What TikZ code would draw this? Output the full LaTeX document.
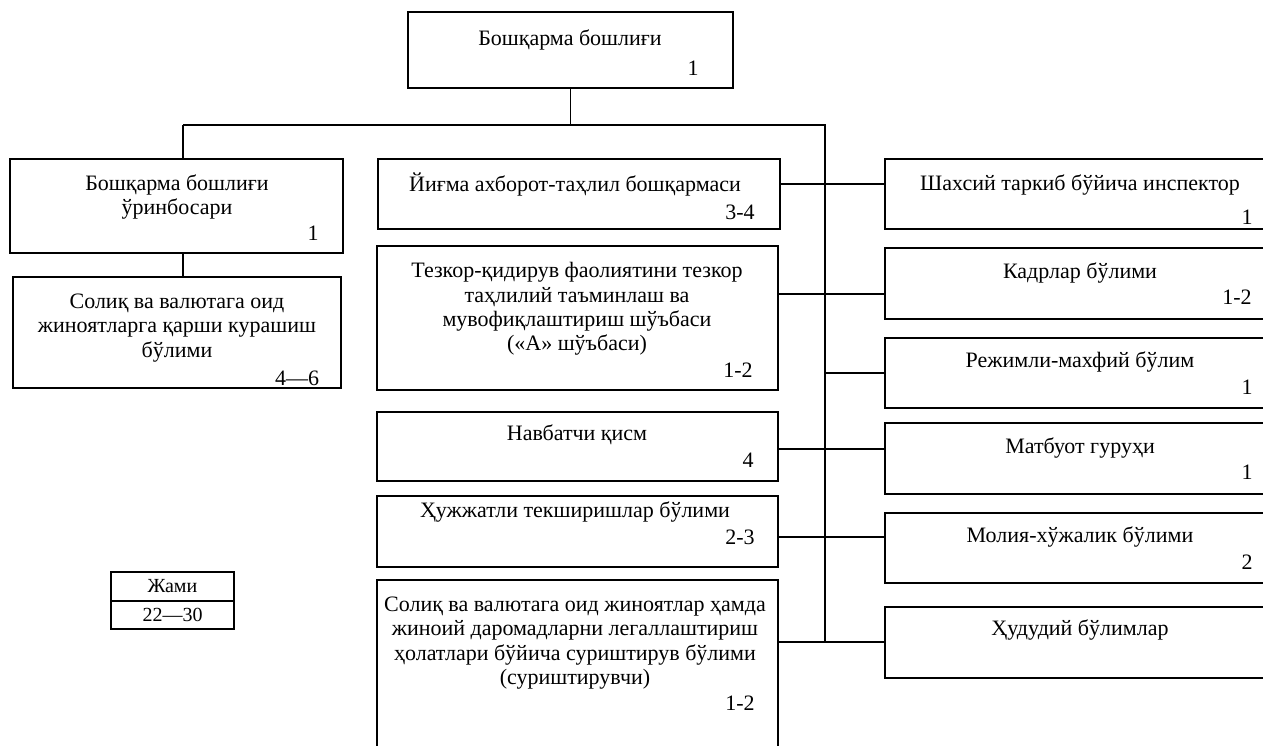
\documentclass[tikz,border=0pt]{standalone}
\usepackage{fontspec}
\setmainfont{Liberation Serif}
\usetikzlibrary{fit}
\tikzstyle{box}=[draw,line width=1pt,inner sep=0pt]
\tikzstyle{thinbox}=[box,line width=0.8pt]
\tikzstyle{txt}=[align=center,inner sep=0pt,font=\fontsize{11}{12.2}\selectfont]
\tikzstyle{small}=[txt,font=\fontsize{10}{11}\selectfont]
\tikzstyle{link}=[line width=0.8pt]
\newcommand{\unitbox}[6][box]{\node[#1,fit={(#3,#4) (#5,#6)}] (#2) {};}
\begin{document}
\begin{tikzpicture}[x=0.5pt,y=-0.5pt]
  \clip (0,0) rectangle (1263,745);

  % boxes
  \unitbox{chief}{408}{12}{733}{88}
  \unitbox{deputy}{10}{159}{343}{253}
  \unitbox{taxdept}{13}{277}{341}{388}

  \unitbox{infomgmt}{378}{159}{780}{229}
  \unitbox{opsearch}{377}{246}{778}{390}
  \unitbox{duty}{377}{412}{778}{481}
  \unitbox{docaudit}{377}{496}{778}{567}
  \unitbox{inquiry}{377}{580}{778}{770}

  \unitbox{staff}{885}{159}{1300}{229}
  \unitbox{hr}{885}{248}{1300}{319}
  \unitbox{secret}{885}{338}{1300}{408}
  \unitbox{press}{885}{423}{1300}{494}
  \unitbox{finance}{885}{513}{1300}{583}
  \unitbox{regional}{885}{607}{1300}{678}

  \unitbox[thinbox]{total}{111}{572}{234}{601}
  \unitbox[thinbox]{totalval}{111}{601}{234}{629}

  % texts
  \node[txt] (chief-t) at (570,40) {Бошқарма бошлиғи};
  \node[txt] (chief-n) at (693,68) {1};
  \node[txt] (deputy-t) at (177,197) {Бошқарма бошлиғи\\ўринбосари};
  \node[txt] (deputy-n) at (313,233) {1};
  \node[txt] (taxdept-t) at (177,328) {Солиқ ва валютага оид\\жиноятларга қарши курашиш\\бўлими};
  \node[txt] (taxdept-n) at (297,378) {4—6};

  \node[txt] (infomgmt-t) at (575,185) {Йиғма ахборот-таҳлил бошқармаси};
  \node[txt] (infomgmt-n) at (740,212) {3-4};
  \node[txt] (opsearch-t) at (577,309) {Тезкор-қидирув фаолиятини тезкор\\таҳлилий таъминлаш ва\\мувофиқлаштириш шўъбаси\\(«А» шўъбаси)};
  \node[txt] (opsearch-n) at (738,370) {1-2};
  \node[txt] (duty-t) at (577,435) {Навбатчи қисм};
  \node[txt] (duty-n) at (748,460) {4};
  \node[txt] (docaudit-t) at (575,512) {Ҳужжатли текширишлар бўлими};
  \node[txt] (docaudit-n) at (740,537) {2-3};
  \node[txt] (inquiry-t) at (575,643) {Солиқ ва валютага оид жиноятлар ҳамда\\жиноий даромадларни легаллаштириш\\ҳолатлари бўйича суриштирув бўлими\\(суриштирувчи)};
  \node[txt] (inquiry-n) at (740,703) {1-2};

  \node[txt] (staff-t) at (1080,185) {Шахсий таркиб бўйича инспектор};
  \node[txt] (staff-n) at (1247,217) {1};
  \node[txt] (hr-t) at (1080,273) {Кадрлар бўлими};
  \node[txt] (hr-n) at (1237,297) {1-2};
  \node[txt] (secret-t) at (1080,362) {Режимли-махфий бўлим};
  \node[txt] (secret-n) at (1247,387) {1};
  \node[txt] (press-t) at (1080,448) {Матбуот гуруҳи};
  \node[txt] (press-n) at (1247,472) {1};
  \node[txt] (finance-t) at (1080,537) {Молия-хўжалик бўлими};
  \node[txt] (finance-n) at (1247,562) {2};
  \node[txt] (regional-t) at (1080,630) {Ҳудудий бўлимлар};

  \node[small] (total-t) at (total) {Жами};
  \node[small] (totalval-t) at (totalval) {22—30};

  % connectors
  \coordinate (bus) at (825,125);
  \coordinate (lbus) at (183,125);
  \coordinate (s1) at (825,184);
  \coordinate (s2) at (825,294);
  \coordinate (s3) at (825,373);
  \coordinate (s4) at (825,449);
  \coordinate (s5) at (825,537);
  \coordinate (s6) at (825,642);

  \draw[link] (chief.south) -- (chief.south |- bus);
  \draw[link] (lbus) -- (bus) -- (s6);
  \draw[link] (lbus) -- (lbus |- deputy.north);
  \draw[link] (lbus |- deputy.south) -- (lbus |- taxdept.north);
  \foreach \l/\r/\s in {infomgmt/staff/s1, opsearch/hr/s2, duty/press/s4,
                        docaudit/finance/s5, inquiry/regional/s6}
    \draw[link] (\l.east |- \s) -- (\r.west |- \s);
  \draw[link] (s3) -- (secret.west |- s3);

\end{tikzpicture}
\end{document}
